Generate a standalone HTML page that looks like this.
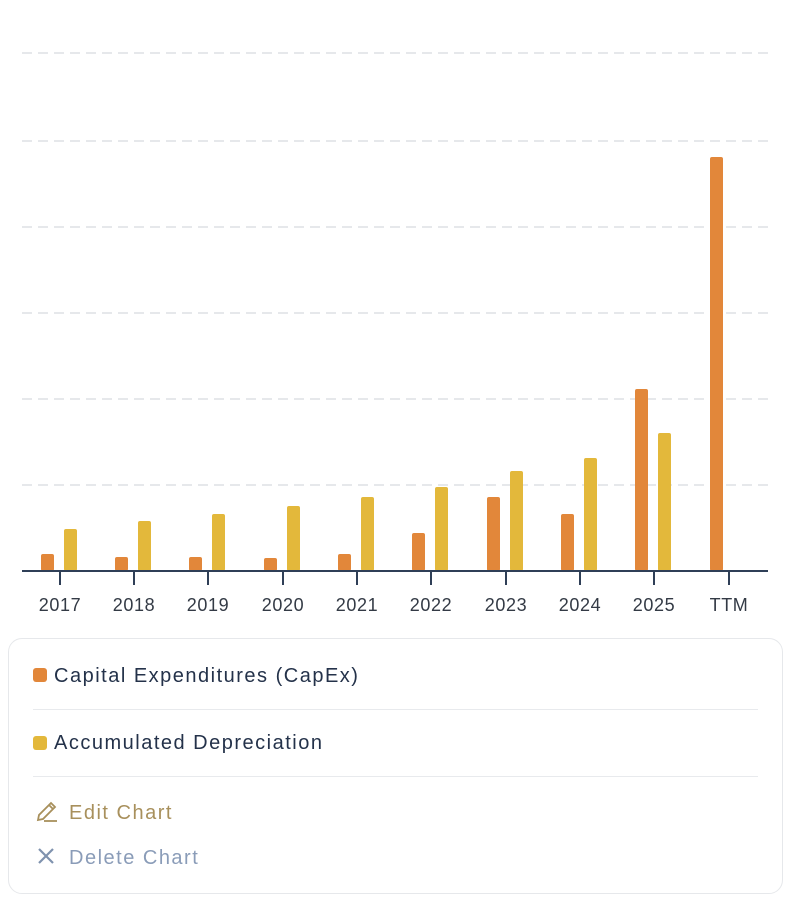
<!DOCTYPE html>
<html><head><meta charset="utf-8"><style>
body{margin:0;width:795px;height:920px;background:#fff;font-family:"Liberation Sans",sans-serif;position:relative;overflow:hidden}
.card{position:absolute;left:8px;top:638px;width:775px;height:256px;border:1px solid #e6e8eb;border-radius:14px;box-sizing:border-box}
.t{position:absolute;left:54px;font-size:20px;color:#24324a;line-height:24px;letter-spacing:1.5px}
.sep{position:absolute;left:33px;width:725px;height:1px;background:#e8eaed}
.sw{position:absolute;left:33px;width:14px;height:14px;border-radius:3px}
</style></head><body>
<svg width="795" height="630" style="position:absolute;left:0;top:0">
<g stroke="#e6e8eb" stroke-width="2" stroke-dasharray="10,6">
<line x1="22" x2="768" y1="53" y2="53"/><line x1="22" x2="768" y1="141" y2="141"/><line x1="22" x2="768" y1="227" y2="227"/><line x1="22" x2="768" y1="313" y2="313"/><line x1="22" x2="768" y1="399" y2="399"/><line x1="22" x2="768" y1="485" y2="485"/>
</g>
<g fill="#e2873a">
<rect x="41" y="554" width="13" height="17" rx="2"/>
<rect x="115" y="557" width="13" height="14" rx="2"/>
<rect x="189" y="557" width="13" height="14" rx="2"/>
<rect x="264" y="558" width="13" height="13" rx="2"/>
<rect x="338" y="554" width="13" height="17" rx="2"/>
<rect x="412" y="533" width="13" height="38" rx="2"/>
<rect x="487" y="497" width="13" height="74" rx="2"/>
<rect x="561" y="514" width="13" height="57" rx="2"/>
<rect x="635" y="389" width="13" height="182" rx="2"/>
<rect x="710" y="157" width="13" height="414" rx="2"/>
</g>
<g fill="#e3b83b">
<rect x="64" y="529" width="13" height="42" rx="2"/>
<rect x="138" y="521" width="13" height="50" rx="2"/>
<rect x="212" y="514" width="13" height="57" rx="2"/>
<rect x="287" y="506" width="13" height="65" rx="2"/>
<rect x="361" y="497" width="13" height="74" rx="2"/>
<rect x="435" y="487" width="13" height="84" rx="2"/>
<rect x="510" y="471" width="13" height="100" rx="2"/>
<rect x="584" y="458" width="13" height="113" rx="2"/>
<rect x="658" y="433" width="13" height="138" rx="2"/>
</g>
<line x1="22" x2="768" y1="571" y2="571" stroke="#2f3f57" stroke-width="2"/>
<g stroke="#2f3f57" stroke-width="2">
<line x1="60" x2="60" y1="571" y2="585"/><line x1="134" x2="134" y1="571" y2="585"/><line x1="208" x2="208" y1="571" y2="585"/><line x1="283" x2="283" y1="571" y2="585"/><line x1="357" x2="357" y1="571" y2="585"/><line x1="431" x2="431" y1="571" y2="585"/><line x1="506" x2="506" y1="571" y2="585"/><line x1="580" x2="580" y1="571" y2="585"/><line x1="654" x2="654" y1="571" y2="585"/><line x1="729" x2="729" y1="571" y2="585"/>
</g>
<g font-family="Liberation Sans, sans-serif" font-size="18" fill="#333a45" text-anchor="middle" letter-spacing="0.6">
<text x="60" y="611">2017</text><text x="134" y="611">2018</text><text x="208" y="611">2019</text><text x="283" y="611">2020</text><text x="357" y="611">2021</text><text x="431" y="611">2022</text><text x="506" y="611">2023</text><text x="580" y="611">2024</text><text x="654" y="611">2025</text><text x="729" y="611">TTM</text>
</g>
</svg>
<div class="card"></div>
<div class="sw" style="top:668px;background:#e2873a"></div>
<div class="t" style="top:664px">Capital Expenditures (CapEx)</div>
<div class="sep" style="top:709px"></div>
<div class="sw" style="top:736px;background:#e3b83b"></div>
<div class="t" style="top:731px">Accumulated Depreciation</div>
<div class="sep" style="top:776px"></div>
<svg width="24" height="24" style="position:absolute;left:35px;top:800px" fill="none" stroke="#a8905c" stroke-width="1.8"><path d="M3 20 L4 15 L16 3 L20 7 L8 19 Z M14 5 L18 9"/><line x1="9" y1="21" x2="22" y2="21"/></svg>
<div class="t" style="top:801px;left:69px;color:#a8905c">Edit Chart</div>
<svg width="20" height="20" style="position:absolute;left:37px;top:847px" stroke="#7f92ae" stroke-width="2.2"><line x1="2" y1="2" x2="16" y2="16"/><line x1="16" y1="2" x2="2" y2="16"/></svg>
<div class="t" style="top:846px;left:69px;color:#8a9cb8">Delete Chart</div>
</body></html>
